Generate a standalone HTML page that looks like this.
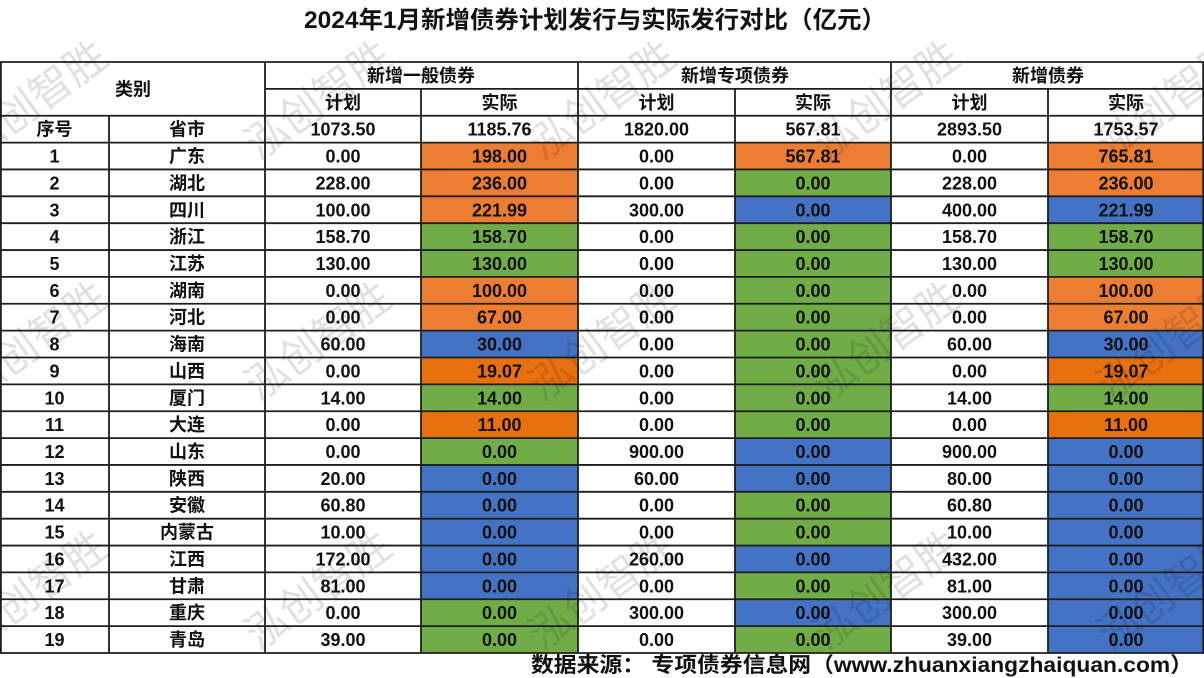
<!DOCTYPE html>
<html><head><meta charset="utf-8"><style>
html,body{margin:0;padding:0;background:#fff;width:1204px;height:678px;overflow:hidden}
svg{display:block}
text{font-family:"Liberation Sans","Noto Sans CJK SC",sans-serif;font-weight:bold;fill:#111}
</style></head><body>
<svg width="1204" height="678" viewBox="0 0 1204 678" xmlns="http://www.w3.org/2000/svg">
<rect x="0" y="0" width="1204" height="678" fill="#fff"/>
<text x="304" y="28" font-size="24" textLength="582" lengthAdjust="spacingAndGlyphs">2024年1月新增债券计划发行与实际发行对比（亿元）</text>

<g>
<rect x="421" y="142.59" width="157" height="26.86" fill="#ED7D31"/><rect x="735" y="142.59" width="156" height="26.86" fill="#ED7D31"/><rect x="1048" y="142.59" width="156" height="26.86" fill="#ED7D31"/>
<rect x="421" y="169.45" width="157" height="26.86" fill="#ED7D31"/><rect x="735" y="169.45" width="156" height="26.86" fill="#70AD47"/><rect x="1048" y="169.45" width="156" height="26.86" fill="#ED7D31"/>
<rect x="421" y="196.32" width="157" height="26.86" fill="#ED7D31"/><rect x="735" y="196.32" width="156" height="26.86" fill="#4472C4"/><rect x="1048" y="196.32" width="156" height="26.86" fill="#4472C4"/>
<rect x="421" y="223.18" width="157" height="26.86" fill="#70AD47"/><rect x="735" y="223.18" width="156" height="26.86" fill="#70AD47"/><rect x="1048" y="223.18" width="156" height="26.86" fill="#70AD47"/>
<rect x="421" y="250.05" width="157" height="26.86" fill="#70AD47"/><rect x="735" y="250.05" width="156" height="26.86" fill="#70AD47"/><rect x="1048" y="250.05" width="156" height="26.86" fill="#70AD47"/>
<rect x="421" y="276.91" width="157" height="26.86" fill="#ED7D31"/><rect x="735" y="276.91" width="156" height="26.86" fill="#70AD47"/><rect x="1048" y="276.91" width="156" height="26.86" fill="#ED7D31"/>
<rect x="421" y="303.77" width="157" height="26.86" fill="#ED7D31"/><rect x="735" y="303.77" width="156" height="26.86" fill="#70AD47"/><rect x="1048" y="303.77" width="156" height="26.86" fill="#ED7D31"/>
<rect x="421" y="330.64" width="157" height="26.86" fill="#4472C4"/><rect x="735" y="330.64" width="156" height="26.86" fill="#70AD47"/><rect x="1048" y="330.64" width="156" height="26.86" fill="#4472C4"/>
<rect x="421" y="357.50" width="157" height="26.86" fill="#E8700E"/><rect x="735" y="357.50" width="156" height="26.86" fill="#70AD47"/><rect x="1048" y="357.50" width="156" height="26.86" fill="#E8700E"/>
<rect x="421" y="384.36" width="157" height="26.86" fill="#70AD47"/><rect x="735" y="384.36" width="156" height="26.86" fill="#70AD47"/><rect x="1048" y="384.36" width="156" height="26.86" fill="#70AD47"/>
<rect x="421" y="411.23" width="157" height="26.86" fill="#E8700E"/><rect x="735" y="411.23" width="156" height="26.86" fill="#70AD47"/><rect x="1048" y="411.23" width="156" height="26.86" fill="#E8700E"/>
<rect x="421" y="438.09" width="157" height="26.86" fill="#70AD47"/><rect x="735" y="438.09" width="156" height="26.86" fill="#4472C4"/><rect x="1048" y="438.09" width="156" height="26.86" fill="#4472C4"/>
<rect x="421" y="464.95" width="157" height="26.86" fill="#4472C4"/><rect x="735" y="464.95" width="156" height="26.86" fill="#4472C4"/><rect x="1048" y="464.95" width="156" height="26.86" fill="#4472C4"/>
<rect x="421" y="491.82" width="157" height="26.86" fill="#4472C4"/><rect x="735" y="491.82" width="156" height="26.86" fill="#70AD47"/><rect x="1048" y="491.82" width="156" height="26.86" fill="#4472C4"/>
<rect x="421" y="518.68" width="157" height="26.86" fill="#4472C4"/><rect x="735" y="518.68" width="156" height="26.86" fill="#70AD47"/><rect x="1048" y="518.68" width="156" height="26.86" fill="#4472C4"/>
<rect x="421" y="545.55" width="157" height="26.86" fill="#4472C4"/><rect x="735" y="545.55" width="156" height="26.86" fill="#4472C4"/><rect x="1048" y="545.55" width="156" height="26.86" fill="#4472C4"/>
<rect x="421" y="572.41" width="157" height="26.86" fill="#4472C4"/><rect x="735" y="572.41" width="156" height="26.86" fill="#70AD47"/><rect x="1048" y="572.41" width="156" height="26.86" fill="#4472C4"/>
<rect x="421" y="599.27" width="157" height="26.86" fill="#70AD47"/><rect x="735" y="599.27" width="156" height="26.86" fill="#4472C4"/><rect x="1048" y="599.27" width="156" height="26.86" fill="#4472C4"/>
<rect x="421" y="626.14" width="157" height="26.86" fill="#70AD47"/><rect x="735" y="626.14" width="156" height="26.86" fill="#70AD47"/><rect x="1048" y="626.14" width="156" height="26.86" fill="#4472C4"/>
</g>

<g stroke="#1e1e1e" stroke-width="1.8" fill="none">
<line x1="0" y1="62" x2="1204" y2="62"/>
<line x1="265" y1="88.86" x2="1204" y2="88.86"/>
<line x1="0" y1="115.73" x2="1204" y2="115.73"/>
<line x1="0" y1="142.59" x2="1204" y2="142.59"/>
<line x1="0" y1="169.45" x2="1204" y2="169.45"/>
<line x1="0" y1="196.32" x2="1204" y2="196.32"/>
<line x1="0" y1="223.18" x2="1204" y2="223.18"/>
<line x1="0" y1="250.05" x2="1204" y2="250.05"/>
<line x1="0" y1="276.91" x2="1204" y2="276.91"/>
<line x1="0" y1="303.77" x2="1204" y2="303.77"/>
<line x1="0" y1="330.64" x2="1204" y2="330.64"/>
<line x1="0" y1="357.50" x2="1204" y2="357.50"/>
<line x1="0" y1="384.36" x2="1204" y2="384.36"/>
<line x1="0" y1="411.23" x2="1204" y2="411.23"/>
<line x1="0" y1="438.09" x2="1204" y2="438.09"/>
<line x1="0" y1="464.95" x2="1204" y2="464.95"/>
<line x1="0" y1="491.82" x2="1204" y2="491.82"/>
<line x1="0" y1="518.68" x2="1204" y2="518.68"/>
<line x1="0" y1="545.55" x2="1204" y2="545.55"/>
<line x1="0" y1="572.41" x2="1204" y2="572.41"/>
<line x1="0" y1="599.27" x2="1204" y2="599.27"/>
<line x1="0" y1="626.14" x2="1204" y2="626.14"/>
<line x1="0" y1="653" x2="1204" y2="653"/>
<line x1="0.9" y1="62" x2="0.9" y2="653"/>
<line x1="109" y1="115.73" x2="109" y2="653"/>
<line x1="265" y1="62" x2="265" y2="653"/>
<line x1="421" y1="88.86" x2="421" y2="653"/>
<line x1="578" y1="62" x2="578" y2="653"/>
<line x1="735" y1="88.86" x2="735" y2="653"/>
<line x1="891" y1="62" x2="891" y2="653"/>
<line x1="1048" y1="88.86" x2="1048" y2="653"/>
<line x1="1203.2" y1="62" x2="1203.2" y2="653"/>
</g>

<g font-size="18" text-anchor="middle">
<text x="133" y="95.4">类别</text>
<text y="81.9"><tspan x="421">新增一般债券</tspan><tspan x="735">新增专项债券</tspan><tspan x="1048">新增债券</tspan></text>
<text y="108.8"><tspan x="343">计划</tspan><tspan x="499.5">实际</tspan><tspan x="656.5">计划</tspan><tspan x="813">实际</tspan><tspan x="969.5">计划</tspan><tspan x="1126">实际</tspan></text>
<text y="135.7"><tspan x="54.5">序号</tspan><tspan x="187">省市</tspan><tspan x="343">1073.50</tspan><tspan x="499.5">1185.76</tspan><tspan x="656.5">1820.00</tspan><tspan x="813">567.81</tspan><tspan x="969.5">2893.50</tspan><tspan x="1126">1753.57</tspan></text>
<text y="162.5"><tspan x="54.5">1</tspan><tspan x="187">广东</tspan><tspan x="343">0.00</tspan><tspan x="499.5">198.00</tspan><tspan x="656.5">0.00</tspan><tspan x="813">567.81</tspan><tspan x="969.5">0.00</tspan><tspan x="1126">765.81</tspan></text>
<text y="189.4"><tspan x="54.5">2</tspan><tspan x="187">湖北</tspan><tspan x="343">228.00</tspan><tspan x="499.5">236.00</tspan><tspan x="656.5">0.00</tspan><tspan x="813">0.00</tspan><tspan x="969.5">228.00</tspan><tspan x="1126">236.00</tspan></text>
<text y="216.3"><tspan x="54.5">3</tspan><tspan x="187">四川</tspan><tspan x="343">100.00</tspan><tspan x="499.5">221.99</tspan><tspan x="656.5">300.00</tspan><tspan x="813">0.00</tspan><tspan x="969.5">400.00</tspan><tspan x="1126">221.99</tspan></text>
<text y="243.1"><tspan x="54.5">4</tspan><tspan x="187">浙江</tspan><tspan x="343">158.70</tspan><tspan x="499.5">158.70</tspan><tspan x="656.5">0.00</tspan><tspan x="813">0.00</tspan><tspan x="969.5">158.70</tspan><tspan x="1126">158.70</tspan></text>
<text y="270.0"><tspan x="54.5">5</tspan><tspan x="187">江苏</tspan><tspan x="343">130.00</tspan><tspan x="499.5">130.00</tspan><tspan x="656.5">0.00</tspan><tspan x="813">0.00</tspan><tspan x="969.5">130.00</tspan><tspan x="1126">130.00</tspan></text>
<text y="296.8"><tspan x="54.5">6</tspan><tspan x="187">湖南</tspan><tspan x="343">0.00</tspan><tspan x="499.5">100.00</tspan><tspan x="656.5">0.00</tspan><tspan x="813">0.00</tspan><tspan x="969.5">0.00</tspan><tspan x="1126">100.00</tspan></text>
<text y="323.7"><tspan x="54.5">7</tspan><tspan x="187">河北</tspan><tspan x="343">0.00</tspan><tspan x="499.5">67.00</tspan><tspan x="656.5">0.00</tspan><tspan x="813">0.00</tspan><tspan x="969.5">0.00</tspan><tspan x="1126">67.00</tspan></text>
<text y="350.6"><tspan x="54.5">8</tspan><tspan x="187">海南</tspan><tspan x="343">60.00</tspan><tspan x="499.5">30.00</tspan><tspan x="656.5">0.00</tspan><tspan x="813">0.00</tspan><tspan x="969.5">60.00</tspan><tspan x="1126">30.00</tspan></text>
<text y="377.4"><tspan x="54.5">9</tspan><tspan x="187">山西</tspan><tspan x="343">0.00</tspan><tspan x="499.5">19.07</tspan><tspan x="656.5">0.00</tspan><tspan x="813">0.00</tspan><tspan x="969.5">0.00</tspan><tspan x="1126">19.07</tspan></text>
<text y="404.3"><tspan x="54.5">10</tspan><tspan x="187">厦门</tspan><tspan x="343">14.00</tspan><tspan x="499.5">14.00</tspan><tspan x="656.5">0.00</tspan><tspan x="813">0.00</tspan><tspan x="969.5">14.00</tspan><tspan x="1126">14.00</tspan></text>
<text y="431.2"><tspan x="54.5">11</tspan><tspan x="187">大连</tspan><tspan x="343">0.00</tspan><tspan x="499.5">11.00</tspan><tspan x="656.5">0.00</tspan><tspan x="813">0.00</tspan><tspan x="969.5">0.00</tspan><tspan x="1126">11.00</tspan></text>
<text y="458.0"><tspan x="54.5">12</tspan><tspan x="187">山东</tspan><tspan x="343">0.00</tspan><tspan x="499.5">0.00</tspan><tspan x="656.5">900.00</tspan><tspan x="813">0.00</tspan><tspan x="969.5">900.00</tspan><tspan x="1126">0.00</tspan></text>
<text y="484.9"><tspan x="54.5">13</tspan><tspan x="187">陕西</tspan><tspan x="343">20.00</tspan><tspan x="499.5">0.00</tspan><tspan x="656.5">60.00</tspan><tspan x="813">0.00</tspan><tspan x="969.5">80.00</tspan><tspan x="1126">0.00</tspan></text>
<text y="511.7"><tspan x="54.5">14</tspan><tspan x="187">安徽</tspan><tspan x="343">60.80</tspan><tspan x="499.5">0.00</tspan><tspan x="656.5">0.00</tspan><tspan x="813">0.00</tspan><tspan x="969.5">60.80</tspan><tspan x="1126">0.00</tspan></text>
<text y="538.6"><tspan x="54.5">15</tspan><tspan x="187">内蒙古</tspan><tspan x="343">10.00</tspan><tspan x="499.5">0.00</tspan><tspan x="656.5">0.00</tspan><tspan x="813">0.00</tspan><tspan x="969.5">10.00</tspan><tspan x="1126">0.00</tspan></text>
<text y="565.5"><tspan x="54.5">16</tspan><tspan x="187">江西</tspan><tspan x="343">172.00</tspan><tspan x="499.5">0.00</tspan><tspan x="656.5">260.00</tspan><tspan x="813">0.00</tspan><tspan x="969.5">432.00</tspan><tspan x="1126">0.00</tspan></text>
<text y="592.3"><tspan x="54.5">17</tspan><tspan x="187">甘肃</tspan><tspan x="343">81.00</tspan><tspan x="499.5">0.00</tspan><tspan x="656.5">0.00</tspan><tspan x="813">0.00</tspan><tspan x="969.5">81.00</tspan><tspan x="1126">0.00</tspan></text>
<text y="619.2"><tspan x="54.5">18</tspan><tspan x="187">重庆</tspan><tspan x="343">0.00</tspan><tspan x="499.5">0.00</tspan><tspan x="656.5">300.00</tspan><tspan x="813">0.00</tspan><tspan x="969.5">300.00</tspan><tspan x="1126">0.00</tspan></text>
<text y="646.1"><tspan x="54.5">19</tspan><tspan x="187">青岛</tspan><tspan x="343">39.00</tspan><tspan x="499.5">0.00</tspan><tspan x="656.5">0.00</tspan><tspan x="813">0.00</tspan><tspan x="969.5">39.00</tspan><tspan x="1126">0.00</tspan></text>
</g>

<text x="531" y="672" font-size="21" textLength="662" lengthAdjust="spacingAndGlyphs">数据来源：  专项债券信息网（www.zhuanxiangzhaiquan.com）</text>

<g font-size="42" text-anchor="middle" dominant-baseline="central">
<text x="34" y="100" transform="rotate(-36 34 100)" style="fill:#000;fill-opacity:0.12;font-weight:normal">泓创智胜</text>
<text x="318" y="100" transform="rotate(-36 318 100)" style="fill:#000;fill-opacity:0.12;font-weight:normal">泓创智胜</text>
<text x="602" y="100" transform="rotate(-36 602 100)" style="fill:#000;fill-opacity:0.12;font-weight:normal">泓创智胜</text>
<text x="886" y="100" transform="rotate(-36 886 100)" style="fill:#000;fill-opacity:0.12;font-weight:normal">泓创智胜</text>
<text x="1170" y="100" transform="rotate(-36 1170 100)" style="fill:#000;fill-opacity:0.12;font-weight:normal">泓创智胜</text>
<text x="34" y="341" transform="rotate(-36 34 341)" style="fill:#000;fill-opacity:0.12;font-weight:normal">泓创智胜</text>
<text x="318" y="341" transform="rotate(-36 318 341)" style="fill:#000;fill-opacity:0.12;font-weight:normal">泓创智胜</text>
<text x="602" y="341" transform="rotate(-36 602 341)" style="fill:#000;fill-opacity:0.12;font-weight:normal">泓创智胜</text>
<text x="886" y="341" transform="rotate(-36 886 341)" style="fill:#000;fill-opacity:0.12;font-weight:normal">泓创智胜</text>
<text x="1170" y="341" transform="rotate(-36 1170 341)" style="fill:#000;fill-opacity:0.12;font-weight:normal">泓创智胜</text>
<text x="34" y="590" transform="rotate(-36 34 590)" style="fill:#000;fill-opacity:0.12;font-weight:normal">泓创智胜</text>
<text x="318" y="590" transform="rotate(-36 318 590)" style="fill:#000;fill-opacity:0.12;font-weight:normal">泓创智胜</text>
<text x="602" y="590" transform="rotate(-36 602 590)" style="fill:#000;fill-opacity:0.12;font-weight:normal">泓创智胜</text>
<text x="886" y="590" transform="rotate(-36 886 590)" style="fill:#000;fill-opacity:0.12;font-weight:normal">泓创智胜</text>
<text x="1170" y="590" transform="rotate(-36 1170 590)" style="fill:#000;fill-opacity:0.12;font-weight:normal">泓创智胜</text>
</g>
</svg>
</body></html>
